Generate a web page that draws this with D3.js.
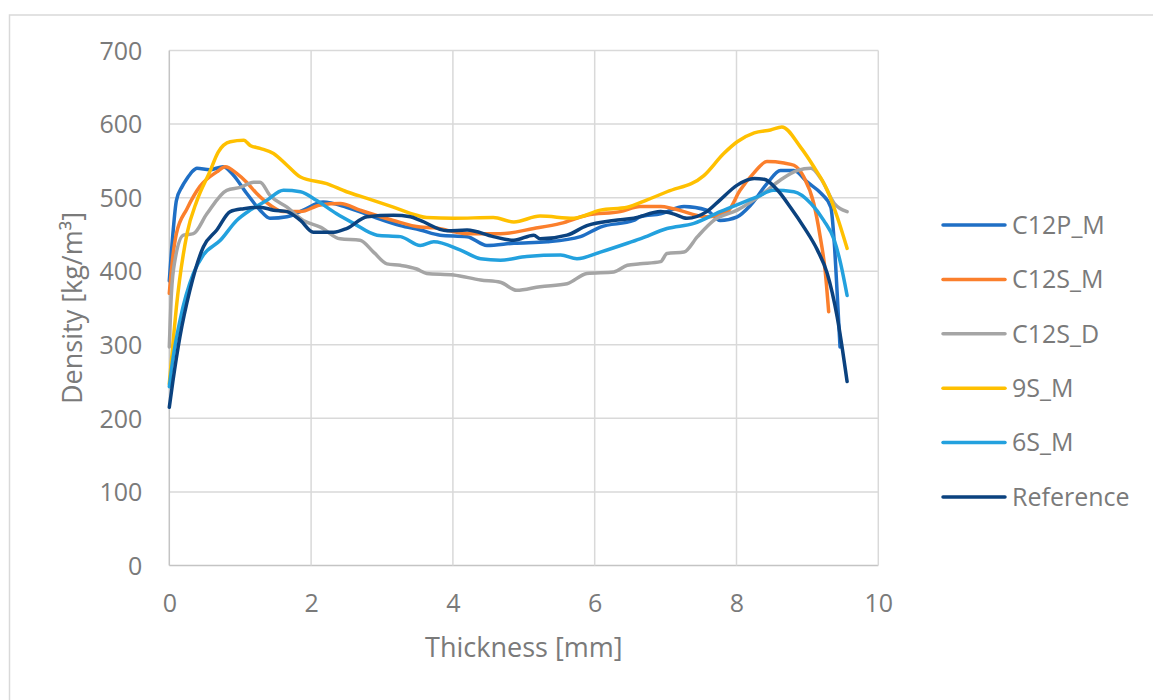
<!DOCTYPE html>
<html>
<head>
<meta charset="utf-8">
<script src="https://cdn.jsdelivr.net/npm/d3@7"></script>
<style>
  html, body { margin: 0; padding: 0; background: #fff; }
  svg { display: block; }
  text { font-family: "Open Sans", "Noto Sans", sans-serif; fill: #7a7a7a; }
</style>
</head>
<body>
<svg id="chart" width="1153" height="700"></svg>
<script>
// ---- data (thickness [mm], density [kg/m3]) ----
const seriesNames = ["C12P_M", "C12S_M", "C12S_D", "9S_M", "6S_M", "Reference"];
const seriesColors = ["#1f6fc5", "#fb7f2c", "#a5a5a5", "#ffc000", "#23a1de", "#0b427f"];
const xTicks = [0, 2, 4, 6, 8, 10];
const yTicks = [0, 100, 200, 300, 400, 500, 600, 700];

const c12pM = [[0,387],[0.05,450],[0.1,496],[0.18,515],[0.25,526],[0.32,535],[0.39,540],[0.57,538],[0.76,542],[0.9,531],[1.09,506],[1.28,483],[1.42,472],[1.66,474],[1.89,483],[2.17,494],[2.5,487],[2.88,474],[3.26,462],[3.54,456],[3.82,449],[4.2,447],[4.48,435],[4.86,438],[5.33,440],[5.8,447],[6.08,460],[6.55,469],[6.64,474],[6.93,478],[7.26,488],[7.58,483],[7.77,469],[8.01,474],[8.2,490],[8.43,519],[8.62,537],[8.81,537],[9.0,521],[9.19,506],[9.33,487],[9.38,437],[9.42,370],[9.46,297]];
const c12sM = [[0,370],[0.05,420],[0.1,451],[0.25,485],[0.43,515],[0.67,535],[0.79,542],[0.95,533],[1.09,521],[1.23,506],[1.42,490],[1.61,481],[1.85,481],[2.13,490],[2.41,492],[2.69,483],[3.16,469],[3.54,460],[3.73,459],[4.2,451],[4.67,451],[5.14,458],[5.52,465],[5.89,476],[6.36,481],[6.64,488],[6.93,488],[7.11,485],[7.58,474],[7.87,481],[8.05,510],[8.24,533],[8.43,549],[8.67,547],[8.81,544],[8.95,528],[9.09,492],[9.18,447],[9.25,401],[9.30,345]];
const c12sD = [[0,297],[0.03,370],[0.08,415],[0.2,449],[0.34,451],[0.53,478],[0.81,510],[1.0,514],[1.19,521],[1.28,521],[1.42,503],[1.66,487],[1.89,469],[2.13,460],[2.41,444],[2.69,442],[2.88,426],[3.07,410],[3.26,408],[3.49,403],[3.63,397],[4.01,395],[4.39,388],[4.67,385],[4.9,374],[5.23,379],[5.61,383],[5.89,397],[6.27,399],[6.46,408],[6.64,410],[6.93,413],[7.02,424],[7.26,426],[7.45,447],[7.68,469],[8.01,483],[8.34,503],[8.62,524],[8.86,537],[9.05,540],[9.19,526],[9.38,492],[9.56,481]];
const s9M = [[0,247],[0.05,300],[0.1,351],[0.25,451],[0.39,496],[0.57,535],[0.69,562],[0.86,576],[1.05,578],[1.14,571],[1.28,567],[1.47,560],[1.66,544],[1.85,528],[2.22,519],[2.5,508],[2.79,499],[3.16,487],[3.49,476],[3.63,473],[4.01,472],[4.57,473],[4.86,467],[5.23,475],[5.7,472],[6.08,483],[6.46,487],[6.74,497],[7.02,508],[7.54,530],[7.82,560],[8.01,576],[8.25,588],[8.48,592],[8.64,596],[8.9,569],[9.09,542],[9.28,510],[9.42,474],[9.56,431]];
const s6M = [[0,243],[0.05,280],[0.15,333],[0.34,397],[0.48,422],[0.72,442],[0.95,469],[1.14,483],[1.37,496],[1.61,510],[1.85,508],[2.08,496],[2.36,478],[2.6,465],[2.93,449],[3.26,447],[3.54,435],[3.73,440],[4.1,429],[4.39,417],[4.67,415],[5.04,420],[5.52,422],[5.75,417],[6.08,426],[6.46,438],[6.64,444],[7.02,458],[7.4,465],[7.77,481],[8.05,492],[8.29,501],[8.52,510],[8.81,508],[9.05,492],[9.23,469],[9.38,442],[9.47,410],[9.56,367]];
const reference = [[0,215],[0.05,250],[0.15,311],[0.29,374],[0.48,433],[0.67,456],[0.86,481],[1.05,485],[1.28,487],[1.47,483],[1.66,481],[1.85,469],[2.03,453],[2.32,453],[2.5,458],[2.79,474],[3.16,476],[3.4,474],[3.54,469],[3.92,455],[4.2,456],[4.57,447],[4.86,442],[5.14,449],[5.23,444],[5.61,449],[5.89,462],[6.27,469],[6.55,472],[6.93,481],[7.11,478],[7.3,472],[7.58,481],[7.77,497],[8.01,517],[8.25,526],[8.39,525],[8.58,510],[8.76,487],[8.95,460],[9.14,429],[9.28,397],[9.42,338],[9.56,250]];

const seriesData = [c12pM, c12sM, c12sD, s9M, s6M, reference];

// ---- layout ----
const svg = d3.select("#chart");
const plot = { left: 169.3, right: 878.3, top: 50.5, bottom: 565.5 };

// chart frame
svg.append("rect")
  .attr("x", 9.5).attr("y", 15)
  .attr("width", 1200).attr("height", 760)
  .attr("fill", "none").attr("stroke", "#d9d9d9").attr("stroke-width", 1.5);

const x = d3.scaleLinear().domain([0, 10]).range([plot.left, plot.right]);
const y = d3.scaleLinear().domain([0, 700]).range([plot.bottom, plot.top]);

// gridlines
const grid = svg.append("g");
grid.selectAll("line.h").data(yTicks).join("line")
  .attr("x1", plot.left).attr("x2", plot.right)
  .attr("y1", d => y(d)).attr("y2", d => y(d))
  .attr("stroke", d => d === 0 ? "#c4c4c4" : "#d9d9d9").attr("stroke-width", 1.5);
grid.selectAll("line.v").data(xTicks).join("line")
  .attr("y1", plot.top).attr("y2", plot.bottom)
  .attr("x1", d => x(d)).attr("x2", d => x(d))
  .attr("stroke", d => d === 0 ? "#c4c4c4" : "#d9d9d9").attr("stroke-width", 1.5);

// axes (labels only, via d3 axis)
const yAxis = d3.axisLeft(y).tickValues(yTicks).tickSize(0).tickPadding(27);
const gy = svg.append("g").attr("transform", `translate(${plot.left},0)`).call(yAxis);
gy.select(".domain").remove();
gy.selectAll("text").style("font-size", "25px").attr("fill", "#7a7a7a")
  .attr("dy", "0.35em");

const xAxis = d3.axisBottom(x).tickValues(xTicks).tickSize(0).tickPadding(0);
const gx = svg.append("g").attr("transform", `translate(0,${plot.bottom})`).call(xAxis);
gx.select(".domain").remove();
gx.selectAll("text").style("font-size", "25px").attr("fill", "#7a7a7a")
  .attr("y", 46).attr("dy", 0);

// axis titles
svg.append("text")
  .attr("x", (plot.left + plot.right) / 2).attr("y", 657)
  .attr("text-anchor", "middle").style("font-size", "27px")
  .text("Thickness [mm]");
svg.append("text")
  .attr("transform", `translate(82,${(plot.top + plot.bottom) / 2}) rotate(-90)`)
  .attr("text-anchor", "middle").style("font-size", "27px")
  .text("Density [kg/m³]");

// lines
const line = d3.line().x(d => x(d[0])).y(d => y(d[1])).curve(d3.curveMonotoneX);
svg.append("g").selectAll("path").data(seriesData).join("path")
  .attr("d", d => line(d))
  .attr("fill", "none")
  .attr("stroke", (d, i) => seriesColors[i])
  .attr("stroke-width", 3.5)
  .attr("stroke-linejoin", "round")
  .attr("stroke-linecap", "round");

// legend
const legend = svg.append("g");
const legY = d3.scaleLinear().domain([0, 5]).range([225, 497]);
const items = legend.selectAll("g").data(seriesNames).join("g")
  .attr("transform", (d, i) => `translate(0,${legY(i)})`);
items.append("line")
  .attr("x1", 943).attr("x2", 1005).attr("y1", 0).attr("y2", 0)
  .attr("stroke", (d, i) => seriesColors[i]).attr("stroke-width", 3.5)
  .attr("stroke-linecap", "round");
items.append("text")
  .attr("x", 1012).attr("y", 0).attr("dy", "0.35em")
  .style("font-size", "25px")
  .text(d => d);
</script>
</body>
</html>
